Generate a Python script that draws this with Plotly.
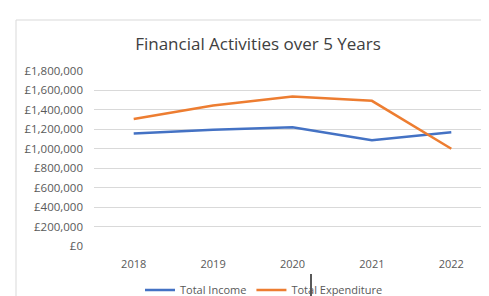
import plotly.graph_objects as go

years = ["2018", "2019", "2020", "2021", "2022"]
total_income = [1156000, 1197000, 1221000, 1089000, 1170000]
total_expenditure = [1306000, 1446000, 1538000, 1493000, 1000000]
y_ticks = [0, 200000, 400000, 600000, 800000, 1000000, 1200000, 1400000, 1600000, 1800000]
y_tick_labels = ["£0", "£200,000", "£400,000", "£600,000", "£800,000", "£1,000,000",
                 "£1,200,000", "£1,400,000", "£1,600,000", "£1,800,000"]

W, H = 489, 296
ML, MR, MT, MB = 86, 6, 63, 58
PW, PH = W - ML - MR, H - MT - MB

def px_x(p):
    return (p - ML) / PW

def px_y(p):
    return (H - MB - p) / PH

fig = go.Figure()
fig.add_trace(go.Scatter(x=years, y=total_income, mode="lines", name="Total Income",
                         line=dict(color="#4472C4", width=2.5)))
fig.add_trace(go.Scatter(x=years, y=total_expenditure, mode="lines", name="Total Expenditure",
                         line=dict(color="#ED7D31", width=2.5)))

fig.update_layout(
    width=W, height=H,
    margin=dict(l=ML, r=MR, t=MT, b=MB, autoexpand=False),
    paper_bgcolor="white", plot_bgcolor="white",
    font=dict(family="Open Sans, sans-serif", color="#595959", size=10),
    title=dict(text="Financial Activities over 5 Years", x=250 / W, xref="container",
               xanchor="center", y=1 - 36 / H, yref="container", yanchor="middle",
               font=dict(size=17, color="#404040"), automargin=False),
    xaxis=dict(type="category", range=[-0.5, 4.5], showgrid=False, showline=False,
               zeroline=False, ticks="", ticklabelstandoff=10, automargin=False,
               tickfont=dict(size=11, color="#595959")),
    yaxis=dict(range=[0, 1800000], tickvals=y_ticks, ticktext=y_tick_labels,
               showgrid=True, gridcolor="#D9D9D9", gridwidth=1, zeroline=False,
               showline=False, ticks="", ticklabelstandoff=10, automargin=False,
               tickfont=dict(size=11.5, color="#595959")),
    legend=dict(orientation="h", x=256 / W, xref="container", xanchor="center",
                y=1 - 282 / H, yref="container", yanchor="middle",
                font=dict(size=11, color="#595959"),
                bgcolor="rgba(0,0,0,0)", itemwidth=30, tracegroupgap=0),
    showlegend=True,
    shapes=[
        dict(type="rect", xref="paper", yref="paper", x0=px_x(8), x1=px_x(495),
             y0=px_y(300), y1=px_y(12), line=dict(color="#D9D9D9", width=1),
             fillcolor="rgba(0,0,0,0)", layer="below"),
        dict(type="line", xref="paper", yref="paper", x0=px_x(303), x1=px_x(303),
             y0=px_y(296), y1=px_y(266), line=dict(color="#222222", width=1.5)),
    ],
)

fig.write_html("out.html")
